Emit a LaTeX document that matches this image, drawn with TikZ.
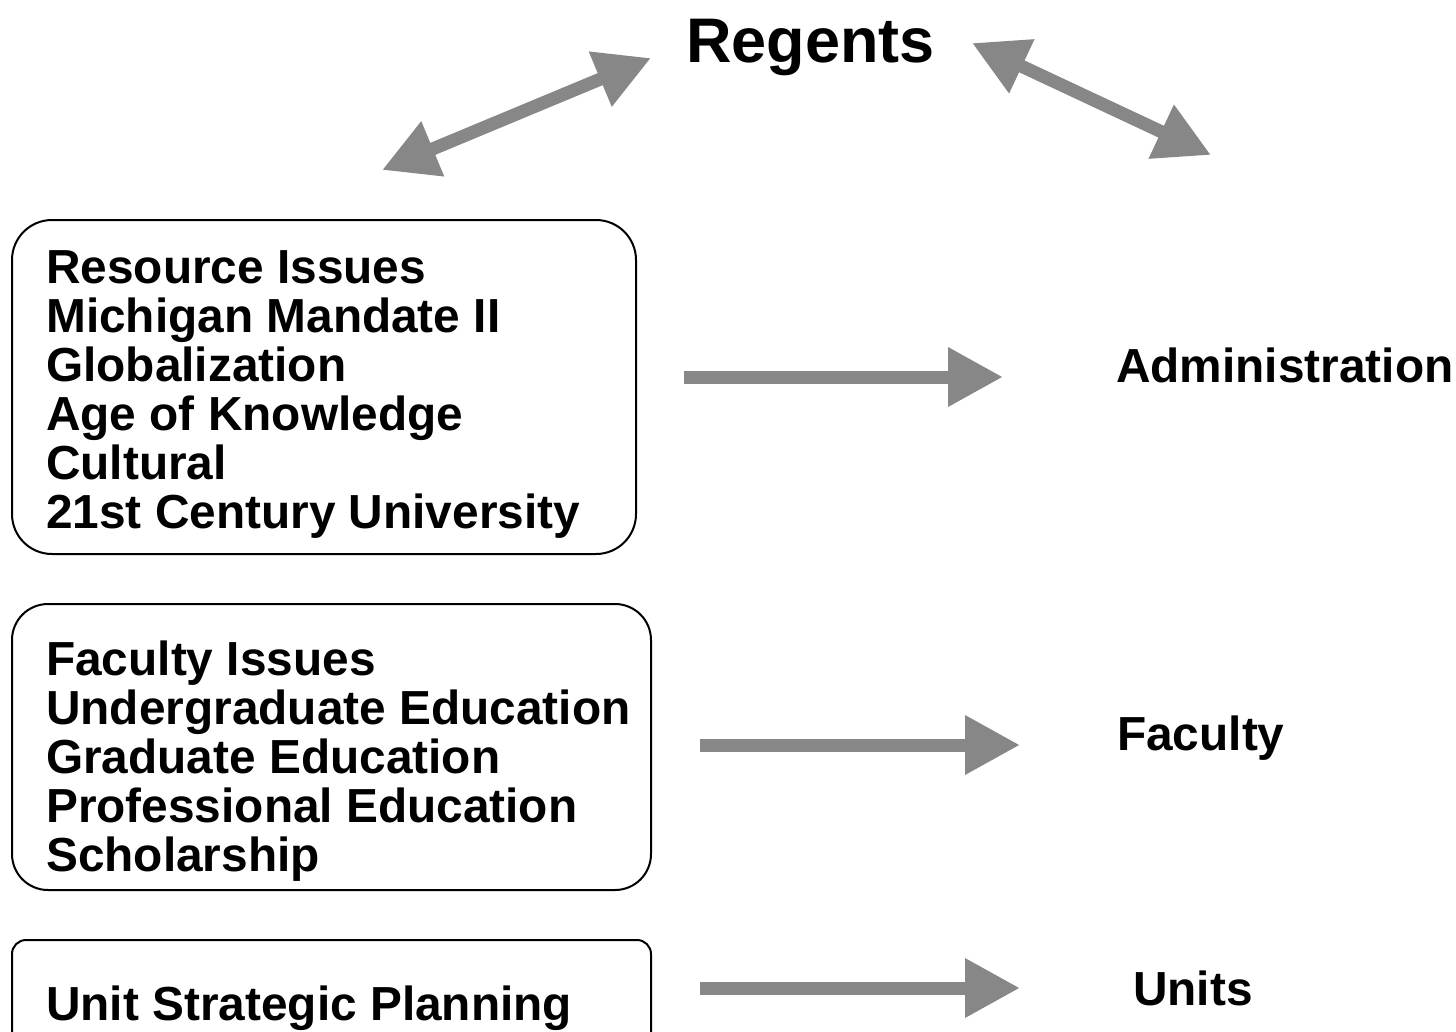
\documentclass[tikz,border=0pt]{standalone}
\usepackage{fontspec}
\setmainfont{Liberation Sans}
\usetikzlibrary{arrows.meta}
\definecolor{arrowgray}{RGB}{135,135,135}
\tikzset{
  issuebox/.style={draw=black, line width=2pt, rounded corners=#1, inner sep=0pt},
  issuetext/.style={anchor=north west, inner sep=0pt, align=left,
    font=\fontsize{47.8}{49}\selectfont\bfseries},
  label/.style={anchor=base west, inner sep=0pt, font=\fontsize{47.8}{49}\selectfont\bfseries},
  blockarrow/.style={draw=arrowgray, line width=13pt,
    -{Triangle[length=55pt,width=56pt]}},
  dblockarrow/.style={draw=arrowgray, line width=13pt,
    {Triangle[length=55pt,width=56pt]}-{Triangle[length=55pt,width=56pt]}}
}
\begin{document}
\begin{tikzpicture}[x=1pt,y=-1pt]
\clip (0,0) rectangle (1456,1031);
\fill[white] (0,0) rectangle (1456,1031);

% title
\node[label, font=\fontsize{63}{65}\selectfont\bfseries] (regents) at (686,62) {Regents};

% boxes
\draw[issuebox=40pt] (12,220) rectangle (636,554);
\draw[issuebox=36pt] (12,604) rectangle (651,890);
\draw[issuebox=14pt] (12,940) rectangle (651,1080);

\node[issuetext] (t1) at (46,250) {Resource Issues\\Michigan Mandate II\\Globalization\\Age of Knowledge\\Cultural\\21st Century University};
\node[issuetext] (t2) at (46,641) {Faculty Issues\\Undergraduate Education\\Graduate Education\\Professional Education\\Scholarship};
\node[label] (t3) at (46,1020) {Unit Strategic Planning};

% right labels
\node[label] (admin) at (1116,382) {Administration};
\node[label] (faculty) at (1117,750) {Faculty};
\node[label] (units) at (1133,1005) {Units};

% arrow end points
\coordinate (a1s) at (684,377);
\coordinate (a1e) at (1003,377);
\coordinate (a2s) at (700,745);
\coordinate (a2e) at (1020,745);
\coordinate (a3s) at (700,988);
\coordinate (a3e) at (1020,988);
\coordinate (dl1) at (382,170);
\coordinate (dl2) at (651,58);
\coordinate (dr1) at (972,43);
\coordinate (dr2) at (1211,155);

\draw[blockarrow] (a1s) -- (a1e);
\draw[blockarrow] (a2s) -- (a2e);
\draw[blockarrow] (a3s) -- (a3e);
\draw[dblockarrow] (dl1) -- (dl2);
\draw[dblockarrow] (dr1) -- (dr2);
\end{tikzpicture}
\end{document}
